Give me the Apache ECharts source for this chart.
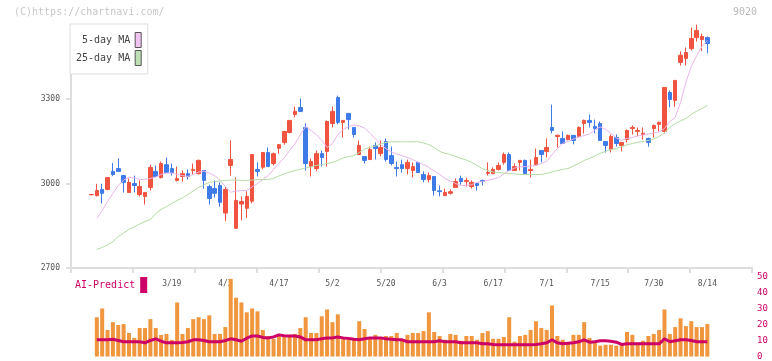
<!DOCTYPE html>
<html><head><meta charset="utf-8">
<script src="https://cdn.jsdelivr.net/npm/echarts@6/dist/echarts.min.js"></script>
<style>html,body{margin:0;padding:0;background:#fff}#c{width:772px;height:361px}</style>
</head><body><div id="c"></div>
<script>
const dates = ['2/26','2/27','2/28','3/3','3/4','3/5','3/6','3/7','3/10','3/11','3/12','3/13','3/14','3/17','3/18','3/19','3/21','3/24','3/25','3/26','3/27','3/28','3/31','4/1','4/2','4/3','4/4','4/7','4/8','4/9','4/10','4/11','4/14','4/15','4/16','4/17','4/18','4/21','4/22','4/23','4/24','4/25','4/28','4/30','5/1','5/2','5/7','5/8','5/9','5/12','5/13','5/14','5/15','5/16','5/19','5/20','5/21','5/22','5/23','5/26','5/27','5/28','5/29','5/30','6/2','6/3','6/4','6/5','6/6','6/9','6/10','6/11','6/12','6/13','6/16','6/17','6/18','6/19','6/20','6/23','6/24','6/25','6/26','6/27','6/30','7/1','7/2','7/3','7/4','7/7','7/8','7/9','7/10','7/11','7/14','7/15','7/16','7/17','7/18','7/22','7/23','7/24','7/25','7/28','7/29','7/30','7/31','8/1','8/4','8/5','8/6','8/7','8/8','8/12','8/13','8/14'];
const labelDates = ['3/19','4/3','4/17','5/2','5/20','6/3','6/17','7/1','7/15','7/30','8/14'];
const priceTicks = [2700, 3000, 3300];

const openP = [2960,2957,2979,2979,3043,3053,3028,2968,3000,2961,2954,2986,3043,3021,3067,3053,3011,3025,3035,3046,3035,3046,2989,2982,2993,2895,3064,2841,2927,2912,2937,3050,3058,3110,3071,3125,3146,3181,3245,3270,3199,3060,3053,3106,3114,3213,3305,3217,3249,3199,3103,3096,3085,3135,3106,3149,3099,3057,3067,3053,3046,3075,3032,3014,3025,2974,2957,2965,2986,3018,3007,2989,3000,3011,3036,3035,3050,3075,3103,3046,3075,3082,3046,3067,3117,3114,3199,3167,3160,3156,3171,3167,3213,3224,3202,3213,3149,3121,3163,3135,3156,3195,3185,3174,3160,3195,3210,3185,3323,3295,3430,3444,3479,3518,3511,3518];
const closeP = [2961,2975,2965,3021,3032,3043,3004,3004,2993,2989,2968,3057,3025,3071,3039,3039,3018,3035,3025,3050,3082,3011,2947,2965,2933,2979,3085,2940,2936,2954,3103,3043,3110,3060,3106,3138,3185,3224,3256,3256,3071,3078,3106,3092,3220,3256,3217,3224,3227,3174,3135,3082,3121,3124,3128,3085,3071,3053,3053,3075,3060,3039,3014,3028,2975,2971,2968,2971,3007,3007,3011,3004,2993,3007,3039,3050,3064,3103,3046,3060,3082,3035,3050,3092,3103,3128,3188,3171,3142,3171,3153,3199,3224,3217,3195,3153,3135,3167,3142,3146,3188,3199,3188,3178,3146,3206,3217,3341,3298,3366,3455,3465,3515,3543,3522,3497];
const lowP = [2958,2954,2929,2976,3026,3043,2968,2968,2968,2954,2925,2975,3025,3018,3039,3028,3007,3007,3014,3032,3032,2982,2925,2950,2918,2866,3028,2841,2869,2877,2930,3025,3050,3060,3064,3106,3138,3178,3234,3256,3046,3025,3043,3060,3060,3199,3210,3163,3192,3163,3103,3071,3085,3085,3096,3078,3064,3025,3039,3032,3021,3039,3004,3004,2957,2954,2957,2961,2986,2996,2989,2982,2975,2993,3028,3035,3046,3067,3046,3046,3046,3035,3021,3067,3075,3092,3178,3128,3142,3153,3139,3164,3177,3199,3178,3153,3110,3110,3131,3114,3146,3174,3167,3156,3131,3163,3185,3178,3270,3273,3419,3419,3472,3504,3470,3462];
const highP = [2962,2999,2999,3021,3073,3089,3028,3018,3028,3011,2968,3067,3064,3078,3092,3071,3060,3046,3050,3071,3085,3046,2996,3011,3004,2989,3153,3021,2954,2972,3103,3075,3110,3128,3110,3140,3185,3224,3273,3302,3213,3089,3117,3117,3224,3273,3312,3224,3249,3199,3153,3096,3131,3146,3153,3160,3131,3078,3085,3085,3075,3078,3043,3039,3025,2993,2982,2979,3018,3028,3021,3011,3004,3014,3075,3057,3075,3110,3110,3071,3082,3085,3085,3124,3117,3160,3280,3174,3185,3174,3171,3203,3227,3245,3227,3220,3149,3174,3174,3146,3192,3206,3199,3199,3163,3210,3220,3341,3330,3366,3469,3483,3554,3564,3532,3522];

const ma5 = [null,2877,2904,2936,2965,2993,3012,3021,3020,3014,3014,3018,3023,3032,3037,3037,3032,3028,3025,3032,3041,3044,3037,3028,3011,2989,2969,2973,2975,2975,2988,3000,3014,3028,3050,3071,3092,3117,3141,3174,3202,3188,3174,3153,3128,3142,3174,3192,3202,3208,3204,3197,3178,3160,3138,3124,3112,3105,3099,3092,3085,3075,3067,3057,3044,3032,3018,3009,3000,2993,2993,2996,3004,3007,3011,3016,3021,3034,3046,3055,3059,3060,3062,3064,3071,3078,3103,3124,3142,3149,3158,3165,3170,3176,3190,3201,3192,3178,3162,3153,3160,3163,3169,3172,3176,3179,3183,3195,3220,3235,3288,3359,3415,3454,3486,3508];
const ma25 = [null,2766,2773,2782,2794,2812,2824,2837,2847,2856,2865,2872,2894,2908,2918,2929,2940,2949,2961,2973,2986,2995,3004,3007,3009,3011,3012,3012,3011,3011,3012,3014,3014,3014,3018,3027,3034,3041,3046,3051,3055,3059,3064,3067,3071,3075,3082,3091,3096,3099,3110,3122,3128,3133,3140,3146,3148,3148,3148,3148,3148,3148,3144,3138,3128,3114,3107,3103,3096,3089,3083,3075,3064,3053,3046,3041,3039,3037,3036,3034,3032,3032,3032,3032,3032,3036,3041,3046,3050,3053,3062,3071,3082,3089,3098,3107,3114,3121,3124,3131,3137,3142,3146,3149,3153,3158,3167,3181,3199,3213,3222,3231,3245,3257,3266,3277];

const volume = [null,24.7,30.2,16.7,21.6,19.8,20.4,14.8,11.7,17.9,17.9,23.5,17.9,13.6,14.2,10.5,34,14.2,17.9,23.5,24.7,23.5,25.9,14.2,14.2,18.5,48.8,37,34,27.8,30.2,28.4,16.7,12.9,11.1,14.2,12.9,13.6,14.2,17.9,24.7,14.8,14.8,25.3,29.6,21.6,26.5,11.7,11.1,11.7,22.2,17.3,11.1,13.6,12.3,12.9,12.9,14.8,11.1,13.6,14.8,14.8,16,27.8,15.4,12.9,10.5,14.2,13.6,9.9,12.9,12.9,10.5,14.8,16,11.1,11.1,12.3,24.7,9.3,12.9,13.6,16.7,22.2,17.9,16.7,32.1,12.9,10.5,8.6,13.6,13.6,21.6,11.7,9.9,6.8,7.4,7.4,6.8,8,15.4,13.6,8,9.9,12.9,14.2,16.7,29.6,14.2,18.5,24,19.1,22.2,18.5,18.5,20.4];
const aiPredict = [null,10.5,10.5,10.5,10.8,10.1,9.3,9.3,9.3,9.3,8.6,10.1,11.1,9.6,8.6,8.6,8.6,8.8,9.3,10.5,10.5,10.1,9.3,9.3,9.3,10.1,11.1,10.5,9.6,11.5,12.9,12.9,12.0,11.7,12.3,13.6,13.0,12.9,12.9,12.3,10.5,10.5,10.5,11.1,11.7,11.7,12.3,11.7,11.4,10.8,10.5,11.1,11.7,11.7,11.7,11.1,10.8,10.5,10.5,9.3,9.3,9.3,9.3,9.3,9.3,9.9,9.3,9.3,9.3,8.6,8.6,8.6,8.6,8.0,8.0,7.6,7.4,7.4,7.4,7.4,7.4,7.4,7.4,7.6,8.0,8.6,10.5,8.6,8.0,8.3,8.6,9.3,10.5,9.0,9.3,9.9,9.9,9.6,9.0,7.6,8.0,8.0,8.0,8.0,8.0,8.0,8.0,11.1,9.3,9.9,10.5,10.5,10.1,9.3,9.3,9.3];

const candles = dates.map((d, i) => [openP[i], closeP[i], lowP[i], highP[i]]);
const mono = 'DejaVu Sans Mono';
const UP = '#f0533f', DOWN = '#3e7be8';

const chart = echarts.init(document.getElementById('c'), null, {renderer: 'canvas'});
chart.setOption({
  animation: false,
  backgroundColor: '#fff',
  title: [
    {text: '(C)https://chartnavi.com/', left: 14, top: 7, padding: 0,
     textStyle: {color: '#c8c8c8', fontSize: 10, fontWeight: 'normal', fontFamily: mono}},
    {text: '9020', right: 15, top: 7, padding: 0,
     textStyle: {color: '#bbbbbb', fontSize: 10, fontWeight: 'normal', fontFamily: mono}}
  ],
  legend: [
    {data: ['5-day MA', '25-day MA'], orient: 'vertical', left: 70, top: 24, align: 'right',
     icon: 'rect', itemWidth: 6, itemHeight: 15, itemGap: 2, padding: [8, 6, 8, 6],
     backgroundColor: '#fff', borderColor: '#dddddd', borderWidth: 1,
     formatter: n => n === '5-day MA' ? ' 5-day MA' : n,
     itemStyle: {borderColor: '#555', borderWidth: 1},
     textStyle: {color: '#444', fontSize: 10, fontFamily: mono}},
    {data: ['AI-Predict'], left: 75, top: 277, align: 'right', icon: 'rect',
     itemWidth: 7, itemHeight: 16, padding: 0,
     textStyle: {color: '#cc0066', fontSize: 10, fontFamily: mono}}
  ],
  grid: [
    {left: 71, top: 26, width: 681, height: 242},
    {left: 88.8, top: 14.5, width: 621.2, height: 253.5},
    {left: 88.8, top: 277, width: 621.2, height: 81}
  ],
  xAxis: [
    {gridIndex: 0, type: 'value', min: 0, max: 11, interval: 1,
     axisLine: {lineStyle: {color: '#dddddd', width: 2}},
     axisTick: {show: true, length: 5, lineStyle: {color: '#dddddd', width: 2}},
     axisLabel: {show: false}, splitLine: {show: false}},
    {gridIndex: 1, type: 'category', data: dates, boundaryGap: true,
     axisLine: {show: false}, axisTick: {show: false}, splitLine: {show: false},
     axisLabel: {interval: (idx, val) => labelDates.includes(val),
       color: '#555', fontSize: 8, fontFamily: mono, margin: 12}},
    {gridIndex: 2, type: 'category', data: dates, boundaryGap: true, show: false}
  ],
  yAxis: [
    {gridIndex: 0, type: 'value', min: 2700, max: 3559, splitLine: {show: false},
     axisLine: {show: true, lineStyle: {color: '#dddddd', width: 2}},
     axisTick: {show: true, length: 5, customValues: priceTicks, lineStyle: {color: '#dddddd', width: 2}},
     axisLabel: {customValues: priceTicks, formatter: v => String(v),
       color: '#555', fontSize: 8, fontFamily: mono, margin: 11}},
    {gridIndex: 1, type: 'value', min: 2700, max: 3600, show: false},
    {gridIndex: 2, type: 'value', min: 0, max: 50, interval: 10, position: 'right', offset: 44,
     axisLine: {show: false}, axisTick: {show: false}, splitLine: {show: false},
     axisLabel: {color: '#cc0066', fontSize: 9, fontFamily: mono, margin: 3}}
  ],
  series: [
    {type: 'candlestick', name: 'price', xAxisIndex: 1, yAxisIndex: 1, data: candles, barWidth: 4,
     itemStyle: {color: UP, color0: DOWN, borderColor: UP, borderColor0: DOWN, borderWidth: 1}},
    {type: 'line', name: '5-day MA', xAxisIndex: 1, yAxisIndex: 1, data: ma5, symbol: 'none',
     lineStyle: {color: '#ebb5eb', width: 1}, itemStyle: {color: '#f0c4f0'}},
    {type: 'line', name: '25-day MA', xAxisIndex: 1, yAxisIndex: 1, data: ma25, symbol: 'none',
     lineStyle: {color: '#b5dca5', width: 1}, itemStyle: {color: '#bfe0b3'}},
    {type: 'bar', name: 'volume', xAxisIndex: 2, yAxisIndex: 2, data: volume, barWidth: 4,
     itemStyle: {color: '#f0963e'}},
    {type: 'line', name: 'AI-Predict', xAxisIndex: 2, yAxisIndex: 2, data: aiPredict, symbol: 'none',
     lineStyle: {color: '#cc0066', width: 3}, itemStyle: {color: '#cc0066'}}
  ]
});
</script></body></html>
